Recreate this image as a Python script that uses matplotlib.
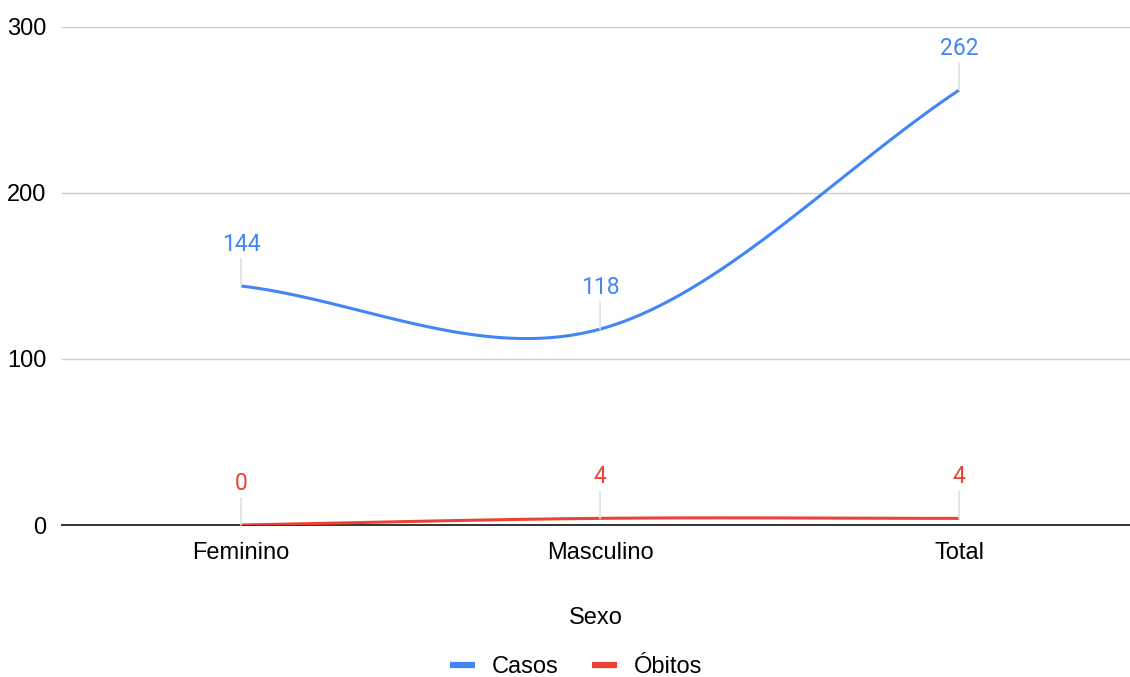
import numpy as np
from matplotlib import pyplot as plt
from matplotlib.lines import Line2D

plt.rcParams['font.family'] = ['Liberation Sans', 'DejaVu Sans']

categorias = ["Feminino", "Masculino", "Total"]
casos = [144, 118, 262]
obitos = [0, 4, 4]
yticks = [0, 100, 200, 300]

azul = "#4285F4"
vermelho = "#EA4335"


def suavizar(ys, n=60):
    # curva tipo catmull-rom (tangente nas pontas = corda)
    ys = np.asarray(ys, dtype=float)
    k = len(ys)
    m = np.zeros(k)
    m[0] = ys[1] - ys[0]
    m[-1] = ys[-1] - ys[-2]
    for i in range(1, k - 1):
        m[i] = (ys[i + 1] - ys[i - 1]) / 2
    xs_out, ys_out = [], []
    for i in range(k - 1):
        t = np.linspace(0, 1, n)
        h00 = 2 * t**3 - 3 * t**2 + 1
        h10 = t**3 - 2 * t**2 + t
        h01 = -2 * t**3 + 3 * t**2
        h11 = t**3 - t**2
        xs_out.append(i + t)
        ys_out.append(h00 * ys[i] + h10 * m[i] + h01 * ys[i + 1] + h11 * m[i + 1])
    return np.concatenate(xs_out), np.concatenate(ys_out)


fig = plt.figure(figsize=(11.3, 6.77), dpi=100)
ax = fig.add_axes([62 / 1130, 152 / 677, 1068 / 1130, 498 / 677])

x = list(range(len(categorias)))

for serie, cor in [(casos, azul), (obitos, vermelho)]:
    sx, sy = suavizar(serie)
    ax.plot(sx, sy, color=cor, linewidth=2.2, solid_capstyle='butt', zorder=3)
    for xi, yi in zip(x, serie):
        ax.annotate(str(yi), xy=(xi, yi), xytext=(0, 35), textcoords='offset pixels',
                    ha='center', va='baseline', color=cor, fontsize=16.5, family='Roboto',
                    arrowprops=dict(arrowstyle='-', color='#e0e0e0', lw=1.2,
                                    shrinkA=0, shrinkB=0))

ax.set_xlim(-0.4986, 2.476)
ax.set_ylim(0, 300)
ax.set_yticks(yticks)
ax.set_xticks(x)
ax.set_xticklabels(categorias)
ax.tick_params(axis='both', length=0, labelsize=17, colors='#000000')
ax.tick_params(axis='x', pad=12)
ax.tick_params(axis='y', pad=11)
ax.grid(axis='y', color='#cccccc', linewidth=1)
ax.set_axisbelow(True)
for lado in ['top', 'right', 'left']:
    ax.spines[lado].set_visible(False)
ax.spines['bottom'].set_color('#333333')
ax.spines['bottom'].set_linewidth(1.4)
ax.spines['bottom'].set_zorder(2)

ax.set_xlabel("Sexo", fontsize=17, labelpad=31)

handles = [Line2D([], [], color=azul, linewidth=4.5, solid_capstyle='butt'),
           Line2D([], [], color=vermelho, linewidth=4.5, solid_capstyle='butt')]
fig.legend(handles, ["Casos", "Óbitos"], loc='lower center', bbox_to_anchor=(0.51, -0.033),
           ncol=2, frameon=False, fontsize=17, handlelength=1.06, handletextpad=0.72,
           columnspacing=1.4)

plt.savefig("out.png", dpi=100)
